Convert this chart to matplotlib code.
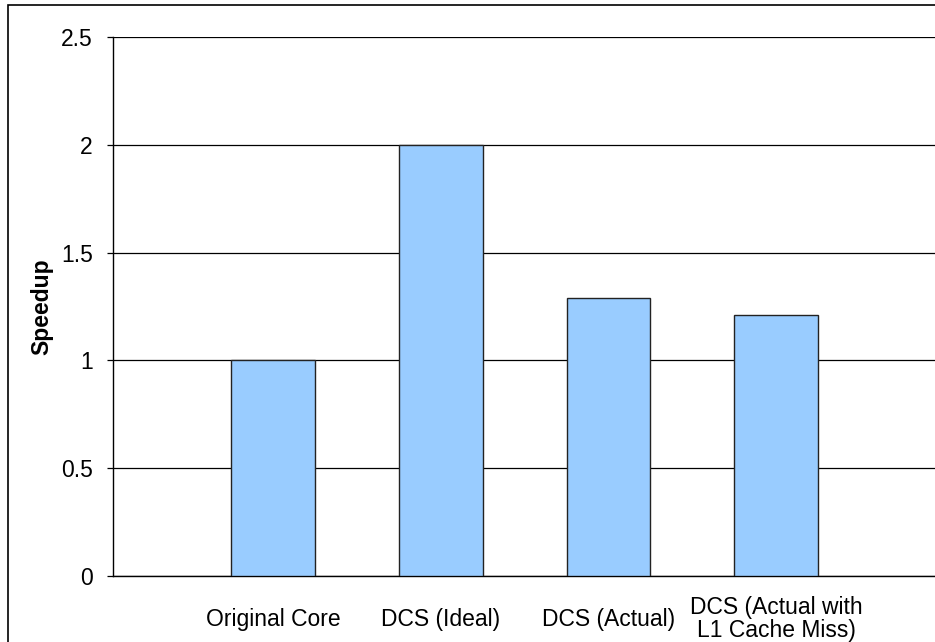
import matplotlib.pyplot as plt
from matplotlib.patches import Rectangle

# speedup of each core configuration
configs = ['Original Core', 'DCS (Ideal)', 'DCS (Actual)', 'DCS (Actual with\nL1 Cache Miss)']
speedup = [1.0, 2.0, 1.29, 1.21]
y_ticks = [0, 0.5, 1, 1.5, 2, 2.5]

plt.rcParams['font.family'] = ['Liberation Sans', 'DejaVu Sans']
FS = 16.5

W, H = 935, 642
fig = plt.figure(figsize=(W / 100, H / 100), dpi=100)

# plot area: left edge at 113px, runs off the right side
left, right, top, bottom = 113, 935, 37, 576
ax = fig.add_axes([left / W, 1 - bottom / H, (right - left) / W, (bottom - top) / H])

x = list(range(len(configs)))
ax.bar(x, speedup, width=0.5, color='#99CCFF', edgecolor='#222222', linewidth=1.0, zorder=3)

ax.set_ylim(0, 2.5)
ax.set_yticks(y_ticks)
ax.set_yticklabels([f'{v:g}' for v in y_ticks])
ax.set_xlim(-0.954, 3.947)
ax.set_xticks(x)
ax.set_xticklabels(configs, va='center', ha='center', multialignment='center', linespacing=0.98)

ax.yaxis.grid(True, color='black', linewidth=0.9, zorder=0)
ax.set_axisbelow(True)

for s in ['top', 'right']:
    ax.spines[s].set_visible(False)
ax.spines['left'].set_linewidth(1.0)
ax.spines['bottom'].set_linewidth(1.0)

ax.tick_params(axis='y', direction='out', length=4.5, width=0.9, pad=10, labelsize=FS)
ax.tick_params(axis='x', length=0, pad=31, labelsize=FS)

ax.set_ylabel('Speedup', fontsize=FS, fontweight='bold', labelpad=5.5)

# outer frame around the chart
fig.patches.append(Rectangle((8 / W, -0.1), 1.2, 1 - 5 / H + 0.1, transform=fig.transFigure,
                             fill=False, edgecolor='black', linewidth=1.2))

fig.savefig('out.png', dpi=100)
